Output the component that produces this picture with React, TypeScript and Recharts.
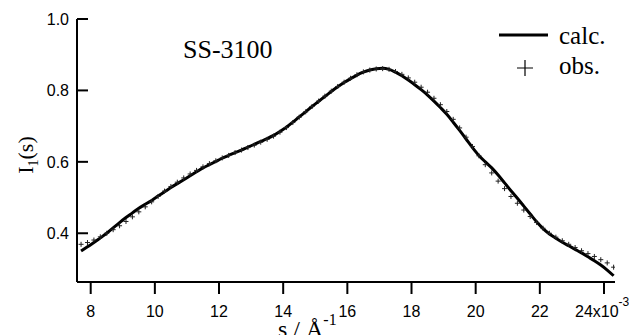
import React from 'react';
import { LineChart, Line, XAxis, YAxis } from 'recharts';

// s in units of 10^-3 Å^-1
const sValues = [
  7.7, 7.9, 8.1, 8.3, 8.5, 8.7, 8.9, 9.1, 9.3, 9.5, 9.7, 9.9, 10.1, 10.3, 10.5, 10.7, 10.9,
  11.1, 11.3, 11.5, 11.7, 11.9, 12.1, 12.3, 12.5, 12.7, 12.9, 13.1, 13.3, 13.5, 13.7, 13.9,
  14.1, 14.3, 14.5, 14.7, 14.9, 15.1, 15.3, 15.5, 15.7, 15.9, 16.1, 16.3, 16.5, 16.7, 16.9,
  17.1, 17.3, 17.5, 17.7, 17.9, 18.1, 18.3, 18.5, 18.7, 18.9, 19.1, 19.3, 19.5, 19.7, 19.9,
  20.1, 20.3, 20.5, 20.7, 20.9, 21.1, 21.3, 21.5, 21.7, 21.9, 22.1, 22.3, 22.5, 22.7, 22.9,
  23.1, 23.3, 23.5, 23.7, 23.9, 24.1, 24.3,
];

const calcValues = [
  0.35, 0.362, 0.374, 0.387, 0.4, 0.415, 0.43, 0.444, 0.457, 0.47, 0.481, 0.492, 0.504, 0.516,
  0.528, 0.539, 0.55, 0.561, 0.572, 0.583, 0.592, 0.601, 0.61, 0.618, 0.626, 0.633, 0.641,
  0.649, 0.657, 0.665, 0.674, 0.685, 0.697, 0.711, 0.726, 0.74, 0.755, 0.769, 0.783, 0.797,
  0.81, 0.822, 0.833, 0.843, 0.851, 0.857, 0.861, 0.862, 0.859, 0.851, 0.841, 0.829, 0.816,
  0.802, 0.787, 0.77, 0.752, 0.733, 0.711, 0.688, 0.664, 0.64, 0.618, 0.6, 0.583, 0.563,
  0.541, 0.519, 0.498, 0.476, 0.454, 0.432, 0.413, 0.398, 0.386, 0.375, 0.365, 0.355, 0.345,
  0.334, 0.323, 0.311, 0.297, 0.281,
];

const obsValues = [
  0.369, 0.374, 0.381, 0.39, 0.4, 0.41, 0.421, 0.433, 0.446, 0.46, 0.474, 0.488, 0.503, 0.518,
  0.531, 0.543, 0.555, 0.566, 0.576, 0.586, 0.595, 0.603, 0.611, 0.618, 0.626, 0.633, 0.64,
  0.647, 0.655, 0.663, 0.672, 0.683, 0.696, 0.71, 0.725, 0.74, 0.755, 0.77, 0.784, 0.798,
  0.811, 0.823, 0.834, 0.844, 0.852, 0.857, 0.86, 0.861, 0.859, 0.853, 0.845, 0.835, 0.823,
  0.809, 0.795, 0.778, 0.76, 0.741, 0.719, 0.695, 0.669, 0.643, 0.617, 0.592, 0.569, 0.546,
  0.525, 0.503, 0.484, 0.465, 0.447, 0.43, 0.414, 0.4, 0.389, 0.379, 0.369, 0.36, 0.351,
  0.343, 0.335, 0.326, 0.317, 0.305,
];

const xTicks = [8, 10, 12, 14, 16, 18, 20, 22, 24];
const yTicks = [0.4, 0.6, 0.8, 1.0];

const serif = '"Liberation Serif", "Times New Roman", serif';
const sans = '"Liberation Sans", Arial, sans-serif';

const data = sValues.map((s, i) => ({ s, calc: calcValues[i], obs: obsValues[i] }));

// "+" marker for observed points
const PlusDot = (props: any) => {
  const { cx, cy, index } = props;
  if (cx == null || cy == null) return <g key={`p-${index}`} />;
  return (
    <path
      key={`p-${index}`}
      d={`M${cx - 2.5},${cy}H${cx + 2.5}M${cx},${cy - 2.5}V${cy + 2.5}`}
      stroke="#222"
      strokeWidth={1}
      fill="none"
    />
  );
};

// y ticks point inward (to the right of the axis)
const YTick = (props: any) => {
  const { x, y, payload } = props;
  return (
    <g>
      <line x1={x} y1={y} x2={x + 11} y2={y} stroke="#000" strokeWidth={2} />
      <text x={x - 8} y={y + 6} textAnchor="end" fontFamily={sans} fontSize={16} fill="#000">
        {payload.value.toFixed(1)}
      </text>
    </g>
  );
};

const XTick = (props: any) => {
  const { x, y, payload } = props;
  if (payload.value === 24) {
    return (
      <text x={x - 29} y={y + 23} textAnchor="start" fontFamily={sans} fontSize={16} fill="#000">
        24x10
        <tspan dy={-11} fontSize={12}>-3</tspan>
      </text>
    );
  }
  return (
    <text x={x} y={y + 23} textAnchor="middle" fontFamily={sans} fontSize={16} fill="#000">
      {payload.value}
    </text>
  );
};

export default function App() {
  return (
    <div style={{ position: 'relative', width: 629, height: 335 }}>
      <style>{'body{margin:0}'}</style>
      <LineChart
        width={629}
        height={335}
        data={data}
        margin={{ top: 19, right: 14, bottom: 0, left: 0 }}
      >
        <XAxis
          dataKey="s"
          type="number"
          domain={[7.573, 24.343]}
          allowDataOverflow
          ticks={xTicks}
          height={53}
          tickSize={12}
          tickMargin={0}
          axisLine={{ stroke: '#000', strokeWidth: 2 }}
          tickLine={{ stroke: '#000', strokeWidth: 2 }}
          tick={<XTick />}
          interval={0}
        />
        <YAxis
          type="number"
          domain={[0.2635, 1]}
          allowDataOverflow
          ticks={yTicks}
          width={77}
          tickSize={0}
          tickMargin={0}
          axisLine={{ stroke: '#000', strokeWidth: 2 }}
          tickLine={false}
          tick={<YTick />}
          interval={0}
        />
        <Line
          dataKey="calc"
          type="monotone"
          stroke="#000"
          strokeWidth={3}
          dot={false}
          isAnimationActive={false}
        />
        <Line
          dataKey="obs"
          stroke="none"
          dot={<PlusDot />}
          activeDot={false}
          isAnimationActive={false}
        />
      </LineChart>
      <svg
        width={629}
        height={335}
        style={{ position: 'absolute', left: 0, top: 0, pointerEvents: 'none' }}
      >
        <text x={183} y={58} fontFamily={serif} fontSize={26} fill="#000">SS-3100</text>
        <line x1={499} y1={35} x2={548} y2={35} stroke="#000" strokeWidth={3} />
        <text x={559} y={44} fontFamily={serif} fontSize={25} fill="#000">calc.</text>
        <path d="M517,68H533M525,60V76" stroke="#000" strokeWidth={1.2} fill="none" />
        <text x={559} y={74} fontFamily={serif} fontSize={25} fill="#000">obs.</text>
        <text
          x={33}
          y={155}
          transform="rotate(-90, 33, 155)"
          textAnchor="middle"
          fontFamily={serif}
          fontSize={22}
          fill="#000"
        >
          I<tspan dy={5} fontSize={14}>1</tspan>
          <tspan dy={-5}>(s)</tspan>
        </text>
        <text x={278} y={337} fontFamily={serif} fontSize={24} fill="#000">
          s / Å<tspan dy={-12} fontSize={16}>-1</tspan>
        </text>
      </svg>
    </div>
  );
}
